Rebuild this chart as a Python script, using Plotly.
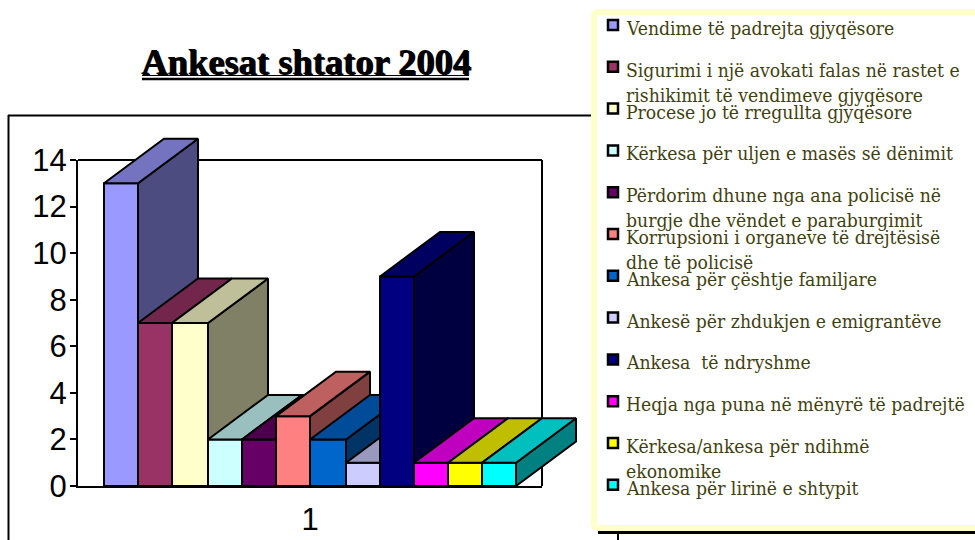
import plotly.graph_objects as go

# ---- data ----
categories = ["1"]
series_names = [
    "Vendime të padrejta gjyqësore",
    "Sigurimi i një avokati falas në rastet e<br>rishikimit të vendimeve gjyqësore",
    "Procese jo të rregullta gjyqësore",
    "Kërkesa për uljen e masës së dënimit",
    "Përdorim dhune nga ana policisë në<br>burgje dhe vëndet e paraburgimit",
    "Korrupsioni i organeve të drejtësisë<br>dhe të policisë",
    "Ankesa për çështje familjare",
    "Ankesë për zhdukjen e emigrantëve",
    "Ankesa  të ndryshme",
    "Heqja nga puna në mënyrë të padrejtë",
    "Kërkesa/ankesa për ndihmë<br>ekonomike",
    "Ankesa për lirinë e shtypit",
]
series_values = [13, 7, 7, 2, 2, 3, 2, 1, 9, 1, 1, 1]
y_ticks = [0, 2, 4, 6, 8, 10, 12, 14]
title_text = "Ankesat shtator 2004"

# ---- styles ----
colors = ["#9999FF", "#993366", "#FFFFCC", "#CCFFFF", "#660066", "#FF8080",
          "#0066CC", "#CCCCFF", "#000080", "#FF00FF", "#FFFF00", "#00FFFF"]
bar_px_widths = [34, 34, 36, 34, 34, 34, 36, 34, 34, 34, 34, 34]  # the source's pixel-rounded bar widths
W, H = 975, 540
PL, PR, PT, PB = 78, 542, 160, 486          # visible axis box in page pixels
OUT_R, OUT_T = 600, 130                     # wider area that the 3-D depth may use
BAR_LEFT = 104                              # left edge of the front row of bars
DEPTH_X, DEPTH_Y = 60, 44.5                 # 3-D offset in pixels
px_x = 1.0 / (PR - PL)                      # x-axis units per pixel
px_y = 14.0 / (PB - PT)                     # y-axis units per pixel


def shade(hex_color, f):
    r, g, b = (int(hex_color[i:i + 2], 16) for i in (1, 3, 5))
    return f"rgb({round(r * f)},{round(g * f)},{round(b * f)})"


def fx(p):
    return (p - PL) / (OUT_R - PL)


def fy(p):
    return (PB - p) / (PB - OUT_T)


fig = go.Figure()
# keeps the visible axes alive; the bars live on an identical, unclipped scale
fig.add_trace(go.Scatter(x=[None], y=[None], xaxis="x", yaxis="y", showlegend=False, hoverinfo="skip"))

dx, dy = DEPTH_X * px_x, DEPTH_Y * px_y
edge = dict(color="black", width=2, simplify=False)


def face(xs, ys, color, name):
    fig.add_trace(go.Scatter(x=xs, y=ys, xaxis="x2", yaxis="y2", mode="lines", fill="toself", fillcolor=color,
                             line=edge, hoverinfo="skip", showlegend=False, name=name))


x1 = (BAR_LEFT - (PL + PR) / 2) * px_x
for name, v, c, wpx in zip(series_names, series_values, colors, bar_px_widths):
    x0 = x1
    x1 = x0 + wpx * px_x
    face([x0, x1, x1, x0, x0], [0, 0, v, v, 0], c, name)
    face([x1, x1 + dx, x1 + dx, x1, x1], [0, dy, v + dy, v, 0], shade(c, 0.5), name)
    face([x0, x1, x1 + dx, x0 + dx, x0], [v, v, v + dy, v + dy, v], shade(c, 0.75), name)

shapes = []
annotations = []

# top and right edges of the axis box, underneath the bars
for x0, y0, x1_, y1 in [(PL, PT, PR, PT), (PR, PT, PR, PB)]:
    shapes.append(dict(type="line", xref="paper", yref="paper", x0=fx(x0), y0=fy(y0), x1=fx(x1_), y1=fy(y1),
                       line=dict(color="black", width=2), layer="below"))

# outer chart frame
for x0, y0, x1_, y1, w in [(8, 115.5, 600, 115.5, 2), (8.5, 115, 8.5, 540, 2),
                           (598, 532.5, 975, 532.5, 3), (618, 532, 618, 540, 2)]:
    shapes.append(dict(type="line", xref="paper", yref="paper", x0=fx(x0), y0=fy(y0), x1=fx(x1_), y1=fy(y1),
                       line=dict(color="black", width=w), layer="above"))

# legend box (rounded corners on the left)
bx0, by0, bx1, by1, r = 594, 12, 984, 528, 4
box_path = (f"M {fx(bx0 + r)},{fy(by0)} L {fx(bx1)},{fy(by0)} L {fx(bx1)},{fy(by1)} L {fx(bx0 + r)},{fy(by1)} "
            f"Q {fx(bx0)},{fy(by1)} {fx(bx0)},{fy(by1 - r)} L {fx(bx0)},{fy(by0 + r)} "
            f"Q {fx(bx0)},{fy(by0)} {fx(bx0 + r)},{fy(by0)} Z")
shapes.append(dict(type="path", xref="paper", yref="paper", path=box_path,
                   fillcolor="white", line=dict(color="#FFFFCC", width=6), layer="above"))

# legend entries
for i, (name, c) in enumerate(zip(series_names, colors)):
    top = 20 + i * 41.8
    shapes.append(dict(type="rect", xref="paper", yref="paper", x0=fx(608), y0=fy(top), x1=fx(618), y1=fy(top + 10),
                       fillcolor=c, line=dict(color="black", width=2.5), layer="above"))
    annotations.append(dict(xref="paper", yref="paper", x=fx(625), y=fy(top - 4), xanchor="left", yanchor="top",
                            text=name, showarrow=False, align="left",
                            font=dict(family="DejaVu Serif Condensed, DejaVu Serif", size=19.2, color="#3F3F10"),
                            borderpad=0))

# title with a shadow and a double underline
annotations.append(dict(xref="paper", yref="paper", x=fx(306), y=fy(62), xanchor="center",
                        yanchor="middle", text=f"<b>{title_text}</b>", showarrow=False,
                        font=dict(family="Liberation Serif", size=36.5, color="black", shadow="1.2px 1.2px 0 black")))
for yy, w in ((75.5, 1), (79, 2.5)):
    shapes.append(dict(type="line", xref="paper", yref="paper", x0=fx(142), y0=fy(yy), x1=fx(469), y1=fy(yy),
                       line=dict(color="black", width=w), layer="above"))

axis_font = dict(family="Liberation Sans", size=31, color="black")
hidden = dict(visible=False, automargin=False, showgrid=False, zeroline=False)
fig.update_layout(
    width=W, height=H, autosize=False,
    margin=dict(l=PL, r=W - OUT_R, t=OUT_T, b=H - PB, pad=0),
    paper_bgcolor="white", plot_bgcolor="rgba(0,0,0,0)",
    showlegend=False, shapes=shapes, annotations=annotations,
    xaxis=dict(domain=[0, fx(PR)], range=[-0.5, 0.5], tickmode="array", tickvals=[0], ticktext=categories, ticks="",
               showgrid=False, zeroline=False, showline=True, linecolor="black", linewidth=2,
               layer="below traces", tickfont=axis_font, ticklabelstandoff=5, automargin=False,
               anchor="y"),
    yaxis=dict(domain=[0, fy(PT)], range=[0, 14], tickmode="array", tickvals=y_ticks, ticks="outside", ticklen=6,
               tickwidth=2, tickcolor="black", showgrid=False, zeroline=False, showline=True, linecolor="black",
               linewidth=2, layer="below traces", tickfont=axis_font, ticklabelstandoff=-3,
               automargin=False, anchor="x"),
    xaxis2=dict(domain=[0, 1], range=[-0.5, -0.5 + (OUT_R - PL) * px_x], anchor="y2", **hidden),
    yaxis2=dict(domain=[0, 1], range=[0, (PB - OUT_T) * px_y], anchor="x2", **hidden),
)

fig.write_html("out.html", config={"displayModeBar": False},
               post_script="document.body.style.margin='0';document.body.style.overflow='hidden';")
